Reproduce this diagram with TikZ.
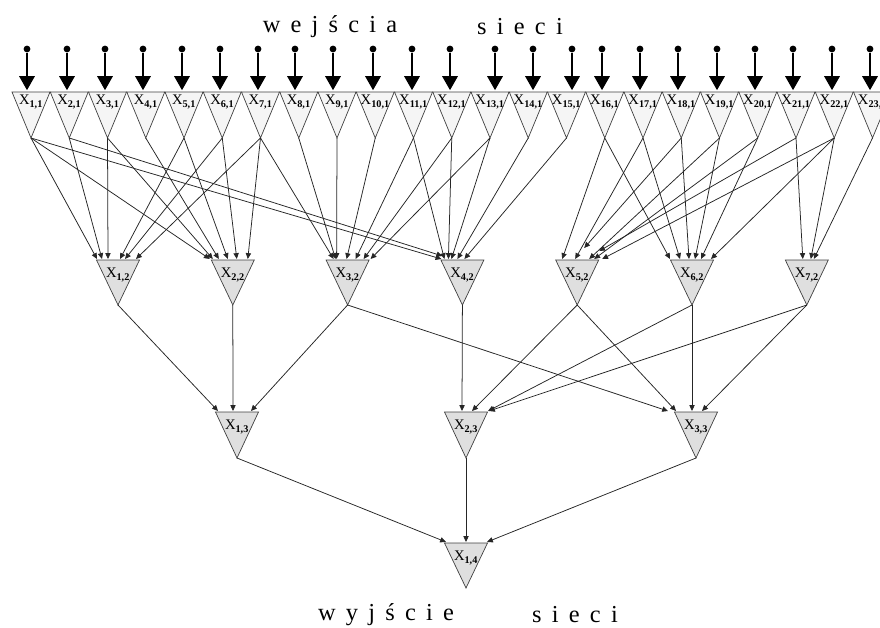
\documentclass[tikz,border=0pt]{standalone}
\usepackage{fontspec}
\setmainfont{Liberation Serif}
\newfontfamily\spacedfont[WordSpace=1.68]{Liberation Serif}
\usetikzlibrary{arrows.meta}

% neuron: name, x, top edge y, half width, height, fill, label, label drop
\newcommand{\neuron}[8]{%
\filldraw[fill=#6,draw=black!75,line width=0.6pt] (#2-#4,#3) -- (#2+#4,#3) -- (#2,#3+#5) -- cycle;
\coordinate (#1) at (#2,#3+#5);
\coordinate (#1top) at (#2,#3);
\node[lbl] (#1lbl) at (#2,#3+#8) {#7};
}

\begin{document}
\begin{tikzpicture}[x=0.03cm,y=-0.03cm,
  dot/.style={circle,fill=black,inner sep=0pt,minimum size=5.8pt},
  inarrow/.style={line width=2.1pt,-{Triangle[length=12pt,width=13pt]},shorten >=1.5pt},
  link/.style={black!85,line width=0.65pt,-{Triangle[length=5pt,width=4.5pt]}},
  lbl/.style={inner sep=0pt,font=\fontsize{12.5}{13}\selectfont},
  title/.style={font=\spacedfont\fontsize{20.8}{24}\selectfont}]
\useasboundingbox (0,0) rectangle (880,628);
\clip (0,0) rectangle (880,628);

\node[title] (inTitleA) at (330,27) {w e j ś c i a};
\node[title] (inTitleB) at (520,27) {s i e c i};
\node[title] (outTitleA) at (386,615) {w y j ś c i e};
\node[title] (outTitleB) at (575,615) {s i e c i};

% layer 1 with inputs
\foreach \i/\xin in {1/27,2/67,3/105,4/143,5/182,6/220,7/258,8/295,9/333,10/373,11/412,12/450,
  13/495,14/533,15/572,16/602,17/640,18/678,19/717,20/755,21/793,22/832,23/870}{
  \pgfmathsetmacro{\xc}{31+38.25*(\i-1)}
  \neuron{X\i-1}{\xc}{92}{19}{46}{gray!8}{X\textsubscript{\textbf{\i,1}}}{10}
  \node[dot] (In\i) at (\xin,49) {};
  \draw[inarrow] (In\i) -- (In\i |- X\i-1top);
}

% layer 2
\foreach \i in {1,...,7}{
  \pgfmathsetmacro{\xc}{118+114.8*(\i-1)}
  \neuron{X\i-2}{\xc}{260}{21.5}{45}{gray!25}{X\textsubscript{\textbf{\i,2}}}{15}
}

% layer 3 and output
\neuron{X1-3}{237}{412}{21.5}{46}{gray!25}{X\textsubscript{\textbf{1,3}}}{15}
\neuron{X2-3}{466}{412}{21.5}{46}{gray!25}{X\textsubscript{\textbf{2,3}}}{15}
\neuron{X3-3}{696}{412}{21.5}{46}{gray!25}{X\textsubscript{\textbf{3,3}}}{15}
\neuron{X1-4}{466}{543}{21.5}{45}{gray!25}{X\textsubscript{\textbf{1,4}}}{15}

% layer 1 -> layer 2
\foreach \s/\t/\o/\h in {1/1/-21/-1, 2/1/-16/-1, 3/1/-10/-1, 5/1/2/-1, 6/1/7/-1, 7/1/18/-1,
  1/2/-23/-1, 3/2/-20/-1, 4/2/-14/-1, 5/2/-5/-1, 6/2/4/-1, 7/2/15/-1,
  7/3/-14/-1, 8/3/-12/-1, 9/3/-11/-1, 10/3/-1/-1, 11/3/8/-1, 12/3/16/-1, 13/3/23/-1,
  1/4/-21/-1, 2/4/-20/-4, 11/4/-18/-1, 12/4/-14/-1, 13/4/-11/-1, 14/4/-5/-1, 15/4/2/-1,
  16/5/-15/-1, 17/5/-2/-1, 18/5/7/-12, 19/5/12/-1, 20/5/17/-1, 21/5/22/-9, 22/5/25/-1,
  16/6/-22/-1, 17/6/-12/-1, 18/6/-3/-1, 19/6/3/-1, 20/6/9/-1, 22/6/19/-1,
  21/7/-4/-1, 22/7/4/-1, 23/7/7/-1}
  \draw[link] (X\s-1) -- ([shift={(\o,\h)}]X\t-2top);

% layer 2 -> layer 3
\foreach \s/\t/\o in {1/1/-19, 2/1/-4, 3/1/14, 3/3/-28, 4/2/-4, 5/2/6, 5/3/-20,
  6/2/22, 6/3/-4, 7/2/23, 7/3/6}
  \draw[link] (X\s-2) -- ([shift={(\o,-1)}]X\t-3top);

% layer 3 -> output
\foreach \s/\o in {1/-20, 2/0, 3/21}
  \draw[link] (X\s-3) -- ([shift={(\o,-1)}]X1-4top);

\end{tikzpicture}
\end{document}
